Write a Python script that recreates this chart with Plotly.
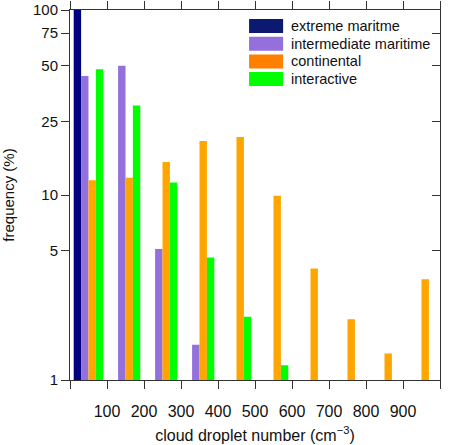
import plotly.graph_objects as go

# данные: центры бинов (cm^-3) и частоты (%)
bins = [50, 150, 250, 350, 450, 550, 650, 750, 850, 950]
extreme_maritime = [100, None, None, None, None, None, None, None, None, None]
intermediate_maritime = [44, 50, 5.1, 1.55, None, None, None, None, None, None]
continental = [12.0, 12.4, 15.1, 19.6, 20.6, 9.9, 4.0, 2.13, 1.39, 3.5]
interactive = [47.8, 30.5, 11.7, 4.6, 2.2, 1.2, None, None, None, None]

series = [
    ("extreme maritme", extreme_maritime, "#000080", "#0b1a70"),
    ("intermediate maritime", intermediate_maritime, "#9370DB", "#9370DB"),
    ("continental", continental, "#FFA500", "#FF7F00"),
    ("interactive", interactive, "#00FF00", "#00FF00"),
]

x_ticks = [100, 200, 300, 400, 500, 600, 700, 800, 900]
x_edge_ticks = [0, 1000]
y_ticks = [1, 5, 10, 25, 50, 75, 100]

FONT = "Liberation Sans, Arial, sans-serif"
TXT = "#111"

fig = go.Figure()

for name, vals, color, _ in series:
    fig.add_trace(go.Bar(
        x=bins, y=vals, name=name,
        marker=dict(color=color, line=dict(width=0)),
        showlegend=False,
    ))

# невидимый трейс для правой оси
fig.add_trace(go.Scatter(x=[bins[0]], y=[1], yaxis="y2", mode="markers",
                         marker=dict(opacity=0), showlegend=False, hoverinfo="skip"))

# легенда вручную (широкие плашки)
x0, x1 = 0.484, 0.576
row_h = 17.7 / 370
top = 1 - 9 / 370
for i, (name, _, _, lcolor) in enumerate(series):
    y_hi = top - i * row_h
    y_lo = y_hi - 14 / 370
    fig.add_shape(type="rect", xref="paper", yref="paper",
                  x0=x0, x1=x1, y0=y_lo, y1=y_hi,
                  fillcolor=lcolor, line=dict(width=0), layer="above")
    fig.add_annotation(xref="paper", yref="paper", x=0.592, y=(y_lo + y_hi) / 2,
                       text=name, showarrow=False, xanchor="left", yanchor="middle",
                       font=dict(family=FONT, size=14.5, color=TXT))

axis_common = dict(showgrid=False, zeroline=False, linecolor="#333", linewidth=1,
                   tickcolor="#333", tickwidth=1, automargin=False)

fig.update_layout(
    width=451, height=445,
    margin=dict(l=70, r=11, t=10, b=65),
    paper_bgcolor="white", plot_bgcolor="white",
    barmode="group", bargap=0.2, bargroupgap=0,
    xaxis=dict(**axis_common, range=[0, 1000], tickvals=x_ticks,
               ticks="outside", ticklen=8, mirror="ticks", showline=True,
               minor=dict(tickvals=x_edge_ticks, ticks="outside", ticklen=8,
                          tickcolor="#333", tickwidth=1, showgrid=False),
               ticklabelstandoff=9,
               tickfont=dict(family=FONT, size=16, color=TXT),
               title=dict(text="cloud droplet number (cm<sup>−3</sup>)",
                          font=dict(family=FONT, size=16, color=TXT), standoff=10)),
    yaxis=dict(**axis_common, type="log", range=[0, 2], tickvals=y_ticks,
               ticktext=[str(v) for v in y_ticks], ticks="outside", ticklen=8,
               mirror=True, showline=True,
               tickfont=dict(family=FONT, size=15, color=TXT),
               title=dict(text="frequency (%)",
                          font=dict(family=FONT, size=15, color=TXT), standoff=19)),
    yaxis2=dict(**axis_common, type="log", range=[0, 2], tickvals=y_ticks,
                overlaying="y", side="right", ticks="inside", ticklen=8,
                showticklabels=False, showline=False),
)

# убираем отступ body, чтобы картинка встала в окно 451x445
fig.write_html("out.html", config={"displayModeBar": False},
               post_script="document.body.style.margin='0';")
